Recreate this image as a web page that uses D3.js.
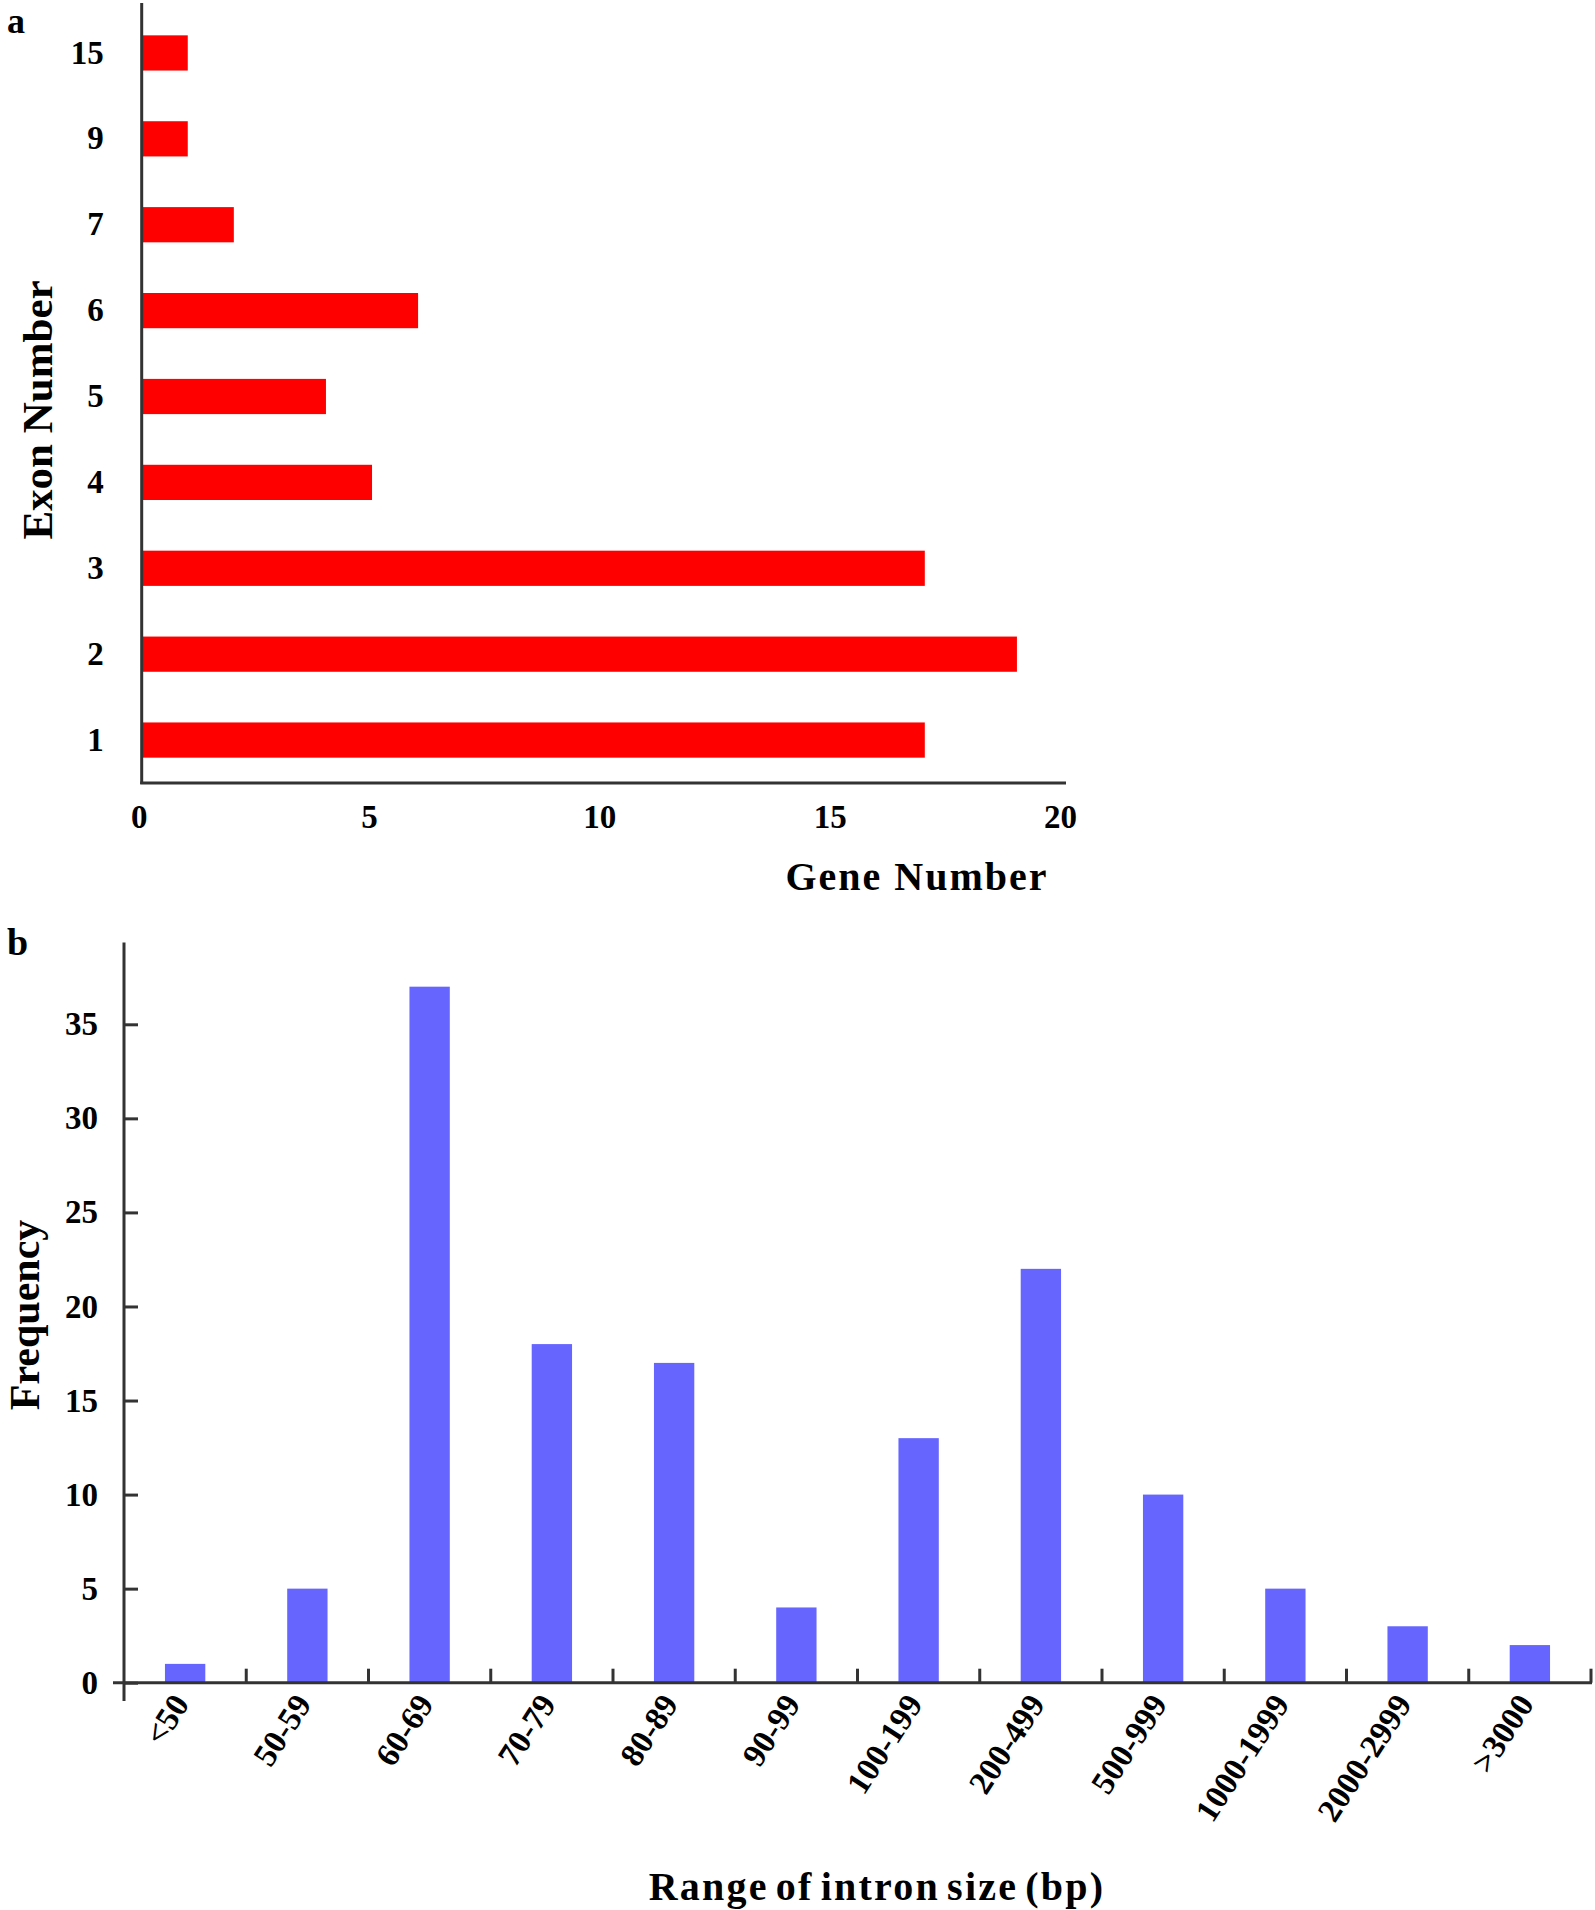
<!DOCTYPE html>
<html lang="en">
<head>
  <meta charset="UTF-8">
  <title>Exon number and intron size</title>
  <style>
    body { margin: 0; background: #fff; }
    svg { display: block; }
    text { font-family: "Liberation Serif", "Times New Roman", serif; font-weight: bold; fill: #000; }
    .axis-line { stroke: #333; stroke-width: 3; }
  </style>
  <script src="https://d3js.org/d3.v7.min.js"></script>
</head>
<body>
  <svg id="fig" width="1595" height="1910"></svg>

  <script>
  // panel a: exon number per gene (top to bottom)
  const exonCats = ['15', '9', '7', '6', '5', '4', '3', '2', '1'];
  const exonGenes = [1, 1, 2, 6, 4, 5, 17, 19, 17];
  const geneTicks = [0, 5, 10, 15, 20];

  // panel b: intron size ranges
  const intronCats = ['<50', '50-59', '60-69', '70-79', '80-89', '90-99', '100-199',
                      '200-499', '500-999', '1000-1999', '2000-2999', '>3000'];
  const intronFreq = [1, 5, 37, 18, 17, 4, 13, 22, 10, 5, 3, 2];
  const freqTicks = [0, 5, 10, 15, 20, 25, 30, 35];

  const svg = d3.select('#fig');

  // ---------- panel a ----------
  const xA = d3.scaleLinear().domain([0, 20]).range([141.7, 1063]);
  const yA = d3.scaleBand().domain(exonCats).range([10, 783])
    .paddingInner(0.59).paddingOuter(0.295);

  const gA = svg.append('g');

  gA.selectAll('rect.bar').data(exonCats).join('rect')
    .attr('class', 'bar')
    .attr('x', xA(0))
    .attr('y', d => yA(d))
    .attr('width', (d, i) => xA(exonGenes[i]) - xA(0))
    .attr('height', yA.bandwidth())
    .attr('fill', '#ff0000');

  // y labels
  gA.append('g')
    .attr('transform', `translate(${xA(0)},0)`)
    .call(d3.axisLeft(yA).tickSize(0).tickPadding(38))
    .call(g => g.select('.domain').remove())
    .selectAll('text')
      .style('font-size', '33px')
      .style('font-family', '"Liberation Serif", serif');

  // x labels
  gA.append('g')
    .attr('transform', 'translate(-3,783)')
    .call(d3.axisBottom(xA).tickValues(geneTicks).tickSize(0).tickPadding(22))
    .call(g => g.select('.domain').remove())
    .selectAll('text')
      .style('font-size', '33px')
      .style('font-family', '"Liberation Serif", serif');

  // axis lines
  gA.append('line').attr('class', 'axis-line')
    .attr('x1', xA(0)).attr('x2', xA(0)).attr('y1', 3).attr('y2', 784);
  gA.append('line').attr('class', 'axis-line')
    .attr('x1', xA(0) - 1.5).attr('x2', 1066).attr('y1', 783).attr('y2', 783);

  gA.append('text').attr('x', 7).attr('y', 33).style('font-size', '36px').text('a');

  gA.append('text')
    .attr('transform', 'translate(52,410) rotate(-90)')
    .attr('text-anchor', 'middle')
    .style('font-size', '43px')
    .text('Exon Number');

  gA.append('text')
    .attr('x', 917).attr('y', 890)
    .attr('text-anchor', 'middle')
    .style('font-size', '40px')
    .style('letter-spacing', '2px')
    .text('Gene Number');

  // ---------- panel b ----------
  const xB = d3.scaleBand().domain(intronCats).range([124, 1591])
    .paddingInner(0.67).paddingOuter(0.335);
  const yB = d3.scaleLinear().domain([0, 35]).range([1682.7, 1024.3]);
  const stepB = xB.step();

  const gB = svg.append('g');

  gB.selectAll('rect.bar').data(intronCats).join('rect')
    .attr('class', 'bar')
    .attr('x', d => xB(d))
    .attr('y', (d, i) => yB(intronFreq[i]))
    .attr('width', xB.bandwidth())
    .attr('height', (d, i) => yB(0) - yB(intronFreq[i]))
    .attr('fill', '#6666ff');

  // y axis with inward ticks
  gB.append('g')
    .attr('transform', 'translate(124,0)')
    .call(d3.axisLeft(yB).tickValues(freqTicks).tickSize(-14).tickPadding(26).tickSizeOuter(0))
    .call(g => g.select('.domain').remove())
    .call(g => g.selectAll('line').attr('stroke', '#333').attr('stroke-width', 3))
    .selectAll('text')
      .style('font-size', '33px')
      .style('font-family', '"Liberation Serif", serif');

  // x tick marks at category boundaries
  gB.selectAll('line.xtick').data(intronCats).join('line')
    .attr('class', 'xtick')
    .attr('x1', d => xB(d) + xB.bandwidth() / 2 + stepB / 2)
    .attr('x2', d => xB(d) + xB.bandwidth() / 2 + stepB / 2)
    .attr('y1', yB(0)).attr('y2', yB(0) - 14)
    .attr('stroke', '#333').attr('stroke-width', 3);

  // axis lines
  gB.append('line').attr('class', 'axis-line')
    .attr('x1', 124).attr('x2', 124).attr('y1', yB(39.35)).attr('y2', 1701);
  gB.append('line').attr('class', 'axis-line')
    .attr('x1', 113).attr('x2', 1592).attr('y1', yB(0)).attr('y2', yB(0));

  // rotated category labels
  gB.selectAll('text.xlab').data(intronCats).join('text')
    .attr('class', 'xlab')
    .attr('text-anchor', 'end')
    .attr('transform', d => `translate(${xB(d) + xB.bandwidth() / 2 + 5},1704) rotate(-57)`)
    .style('font-size', '33px')
    .text(d => d);

  gB.append('text').attr('x', 7).attr('y', 955).style('font-size', '38px').text('b');

  gB.append('text')
    .attr('transform', 'translate(39,1315) rotate(-90)')
    .attr('text-anchor', 'middle')
    .style('font-size', '42px')
    .text('Frequency');

  gB.append('text')
    .attr('x', 877).attr('y', 1900)
    .attr('text-anchor', 'middle')
    .style('font-size', '40px')
    .style('letter-spacing', '2.2px')
    .style('word-spacing', '-5px')
    .text('Range of intron size (bp)');
  </script>
</body>
</html>
